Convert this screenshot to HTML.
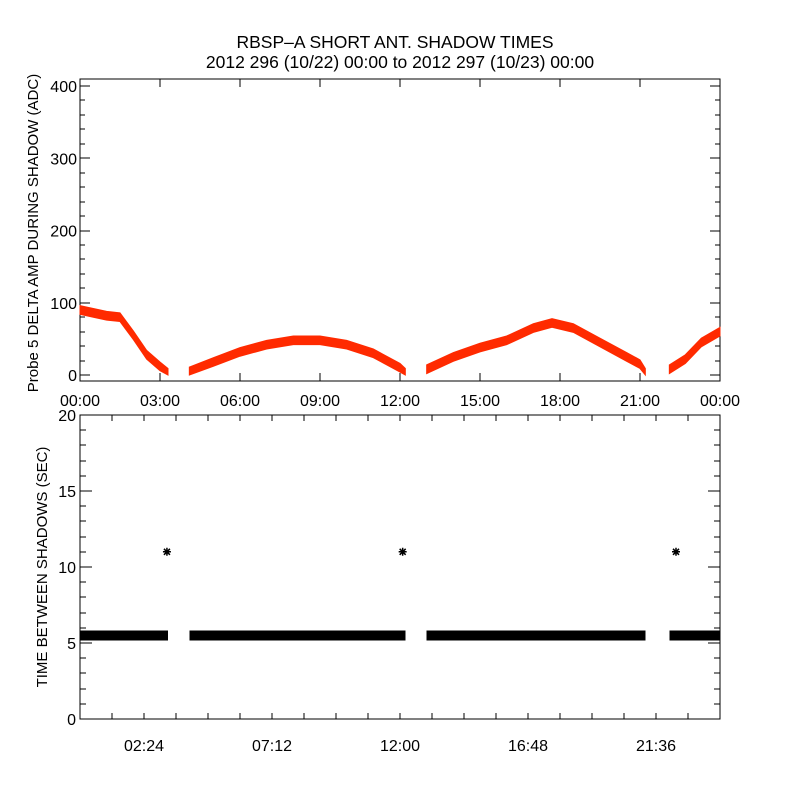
<!DOCTYPE html>
<html><head><meta charset="utf-8"><style>
body{margin:0;background:#fff;width:800px;height:800px;overflow:hidden}
text{font-family:"Liberation Sans",sans-serif;fill:#000}
line,rect{shape-rendering:crispEdges}
</style></head><body>
<svg id="c" width="800" height="800" xmlns="http://www.w3.org/2000/svg">
<text x="395" y="48" font-size="17.5" text-anchor="middle">RBSP–A SHORT ANT. SHADOW TIMES</text>
<text x="400" y="68" font-size="17.5" text-anchor="middle">2012 296 (10/22) 00:00 to 2012 297 (10/23) 00:00</text>
<g id="top"></g>
<g id="bot"></g>
</svg>
<script>
// Top panel data: shadow segments (hours, ADC mean)
const ampSegments=[
 {t:[0,0.5,1,1.5,2,2.5,3,3.3],v:[90,86,82,80,55,28,12,3]},
 {t:[4.1,5,6,7,8,9,10,11,12,12.2],v:[5,18,32,42,48,48,42,30,10,3]},
 {t:[13,14,15,16,17,17.7,18.5,19.5,20.5,21,21.2],v:[8,25,38,48,65,72,65,45,25,15,3]},
 {t:[22.1,22.7,23.3,24],v:[8,22,45,60]}
];
const ampSpread=6;
const topYTicks=[0,100,200,300,400];
const topXLabels=["00:00","03:00","06:00","09:00","12:00","15:00","18:00","21:00","00:00"];
// Bottom panel data
const gapSegments=[[0,3.3],[4.1,12.2],[13,21.2],[22.1,24]];
const gapValue=5.5;
const outlierT=[3.26,12.1,22.35];
const outlierV=[11,11,11];
const botYTicks=[0,5,10,15,20];
const botXLabels=["02:24","07:12","12:00","16:48","21:36"];

const NS="http://www.w3.org/2000/svg";
function mk(p,tag,a){const e=document.createElementNS(NS,tag);for(const k in a)e.setAttribute(k,a[k]);p.appendChild(e);return e;}
const L=80,R=720;
const xs=t=>L+t/24*(R-L);
// top
const T=document.getElementById('top');
const tT=79,tB=381,yT=v=>375-v*0.7225;
const f=mk(T,'rect',{x:L,y:tT,width:R-L,height:tB-tT,fill:'none',stroke:'#000'});

for(let v=0;v<=400;v+=20){const y=Math.round(yT(v)),len=v%100==0?10:5;
 mk(T,'line',{x1:L,y1:y,x2:L+len,y2:y,stroke:'#000'});mk(T,'line',{x1:R,y1:y,x2:R-len,y2:y,stroke:'#000'});}
topYTicks.forEach(v=>{const e=mk(T,'text',{x:L-3,y:yT(v)+6,'font-size':16,'text-anchor':'end'});e.textContent=v;
 });
topXLabels.forEach((s,i)=>{const x=Math.round(xs(i*3));
 mk(T,'line',{x1:x,y1:tB,x2:x,y2:tB-8,stroke:'#000'});mk(T,'line',{x1:x,y1:tT,x2:x,y2:tT+8,stroke:'#000'});
 const e=mk(T,'text',{x:x,y:406,'font-size':16,'text-anchor':'middle'});e.textContent=s;
 });
const yl=mk(T,'text',{x:0,y:0,'font-size':15,'text-anchor':'middle',transform:'translate(38,233) rotate(-90)'});
yl.textContent='Probe 5 DELTA AMP DURING SHADOW (ADC)';

ampSegments.forEach(s=>{
 let up=s.t.map((t,i)=>xs(t)+','+yT(s.v[i]+ampSpread));
 let dn=s.t.map((t,i)=>xs(t)+','+yT(Math.max(s.v[i]-ampSpread,0))).reverse();
 const p=mk(T,'polygon',{points:up.concat(dn).join(' '),fill:'#ff2a00',stroke:'#ff2a00','stroke-width':1});
 
});
// bottom
const B=document.getElementById('bot');
const bT=415,bB=719,yB=v=>bB-v/20*(bB-bT);
const f2=mk(B,'rect',{x:L,y:bT,width:R-L,height:bB-bT,fill:'none',stroke:'#000'});

for(let v=0;v<=20;v++){const y=Math.round(yB(v)),len=v%5==0?12:6;
 mk(B,'line',{x1:L,y1:y,x2:L+len,y2:y,stroke:'#000'});mk(B,'line',{x1:R,y1:y,x2:R-len,y2:y,stroke:'#000'});}
botYTicks.forEach(v=>{const e=mk(B,'text',{x:L-4,y:yB(v)+6,'font-size':16,'text-anchor':'end'});e.textContent=v;
 });
for(let i=0;i<=20;i++){const x=Math.round(xs(i*1.2));
 mk(B,'line',{x1:x,y1:bB,x2:x,y2:bB-6,stroke:'#000'});mk(B,'line',{x1:x,y1:bT,x2:x,y2:bT+6,stroke:'#000'});}
botXLabels.forEach((s,i)=>{const x=xs(2.4+i*4.8);
 const e=mk(B,'text',{x:x,y:751,'font-size':16,'text-anchor':'middle'});e.textContent=s;
 });
const yl2=mk(B,'text',{x:0,y:0,'font-size':15,'text-anchor':'middle',transform:'translate(47,567) rotate(-90)'});
yl2.textContent='TIME BETWEEN SHADOWS (SEC)';

gapSegments.forEach(s=>{
 const r=mk(B,'rect',{x:xs(s[0]),y:yB(gapValue)-5,width:xs(s[1])-xs(s[0]),height:10,fill:'#000'});
 
});
outlierT.forEach((t,i)=>{const x=xs(t),y=yB(outlierV[i]);
 const g=mk(B,'path',{d:`M${x-4} ${y}H${x+4}M${x} ${y-4}V${y+4}M${x-3} ${y-3}L${x+3} ${y+3}M${x-3} ${y+3}L${x+3} ${y-3}`,stroke:'#000','stroke-width':1.5,fill:'none'});
 
});
</script>
</body></html>
